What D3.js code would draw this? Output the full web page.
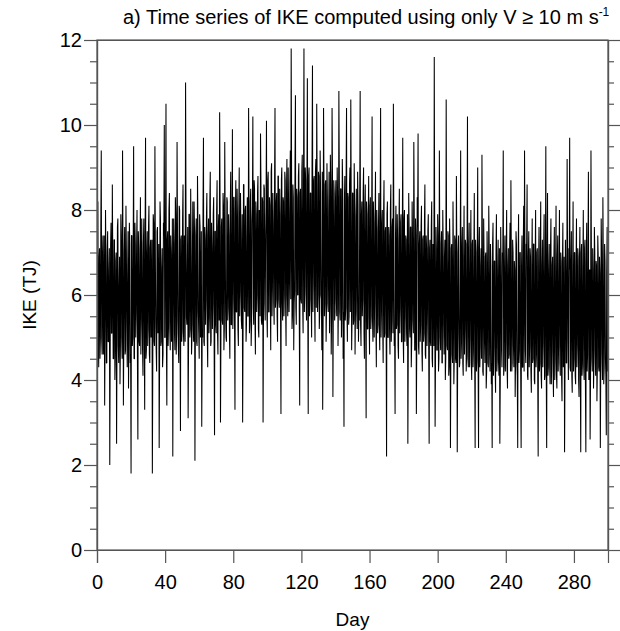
<!DOCTYPE html>
<html>
<head>
<meta charset="utf-8">
<script src="https://cdn.jsdelivr.net/npm/d3@7"></script>
<style>
  html, body { margin: 0; padding: 0; background: #fff; }
  svg { display: block; font-family: "Liberation Sans", Arial, Helvetica, sans-serif; }
</style>
</head>
<body>
<svg id="chart" width="620" height="631"></svg>
<script>
// ---- data (IKE in TJ) ----
// samples at 00 and 12 h of each day
const stepDays = 0.5;
const ike = [
// days 0-9
5.6,8.2, 4.3,7.1, 5.0,9.4, 4.6,7.4, 5.2,3.4, 8.0,4.4, 7.0,4.9, 6.6,2.0, 7.2,5.1, 8.6,4.5,
// 10-19
7.3,4.0, 6.8,2.5, 7.6,4.8, 6.2,3.9, 7.9,5.0, 9.4,3.4, 7.0,4.6, 8.1,5.3, 6.5,3.8, 7.7,4.4,
// 20-29
1.8,7.4, 5.0,9.5, 4.5,7.2, 5.6,8.0, 2.6,7.1, 4.8,8.3, 5.4,6.9, 4.1,7.8, 3.3,9.7, 4.7,7.5,
// 30-39
5.2,8.1, 4.4,7.3, 5.8,1.8, 7.9,4.9, 9.5,5.3, 4.2,7.6, 5.5,2.4, 8.2,4.8, 6.6,4.3, 7.7,10.0,
// 40-49
5.0,10.5, 3.4,7.5, 5.3,8.4, 4.7,7.0, 5.6,2.2, 7.8,5.1, 8.3,4.6, 9.6,5.4, 4.4,8.0, 2.8,7.4,
// 50-59
5.2,8.6, 4.8,7.2, 11.0,5.5, 6.4,3.1, 7.9,5.0, 8.5,4.6, 6.9,5.3, 8.2,2.1, 7.4,4.9, 8.8,5.6,
// 60-69
4.5,7.6, 5.7,2.9, 5.0,9.7, 4.8,7.3, 5.9,8.4, 4.3,7.8, 5.5,8.9, 4.9,7.1, 5.8,8.3, 2.7,7.5,
// 70-79
5.1,8.7, 4.6,7.9, 10.3,3.0, 7.6,5.4, 8.4,4.7, 9.6,5.6, 4.9,8.2, 5.7,7.4, 4.5,8.9, 5.3,9.9,
// 80-89
5.9,8.3, 3.3,8.7, 5.6,7.8, 4.8,9.0, 6.1,7.5, 5.2,3.0, 8.6,5.7, 8.0,4.9, 7.3,5.5, 10.4,5.1,
// 90-99
8.2,4.8, 7.7,10.2, 5.3,8.5, 4.6,7.9, 6.0,8.8, 5.0,7.6, 9.8,5.4, 8.3,3.0, 8.6,5.8, 7.4,10.1,
// 100-109
5.0,8.9, 5.6,8.1, 4.7,9.1, 6.2,7.7, 5.3,10.4, 5.9,8.4, 4.9,8.8, 5.7,7.9, 3.2,9.0, 5.4,8.2,
// 110-119
6.0,8.7, 4.8,9.2, 5.5,8.0, 6.3,9.4, 11.8,5.2, 8.6,4.7, 6.1,10.7, 5.3,8.3, 6.0,9.1, 3.4,8.5,
// 120-129
5.8,9.3, 5.1,11.8, 6.2,8.7, 5.4,11.1, 3.2,9.0, 5.9,8.4, 5.0,11.4, 6.3,8.8, 4.9,9.2, 10.5,5.6,
// 130-139
8.9,5.2, 9.4,6.0, 4.7,3.3, 10.4,5.5, 8.6,4.9, 9.1,5.8, 7.9,5.1, 9.3,4.6, 10.4,3.6, 8.7,5.4,
// 140-149
8.2,5.9, 9.0,4.8, 10.8,5.6, 8.5,5.0, 9.2,4.5, 2.9,8.8, 5.7,10.4, 4.9,8.3, 5.5,9.0, 10.6,4.7,
// 150-159
8.4,5.3, 9.1,4.6, 7.8,5.6, 8.9,4.9, 5.4,10.8, 4.8,8.2, 5.9,9.0, 4.5,8.6, 3.1,7.9, 5.2,8.8,
// 160-169
4.6,8.3, 5.5,10.2, 4.9,7.7, 5.8,8.9, 4.3,7.5, 5.3,8.4, 4.7,10.4, 5.6,8.0, 4.4,8.7, 5.1,7.6,
// 170-179
2.2,8.2, 5.0,7.4, 4.6,8.6, 5.4,7.8, 10.5,4.8, 3.2,8.1, 5.3,7.3, 4.5,8.5, 5.7,7.9, 4.9,9.7,
// 180-189
4.4,8.0, 5.5,7.3, 4.8,2.5, 8.4,5.2, 7.6,4.3, 8.2,5.4, 9.6,4.7, 7.8,3.2, 8.3,9.8, 4.6,7.5,
// 190-199
5.3,8.1, 4.2,7.4, 5.1,8.6, 4.5,7.1, 5.6,7.9, 2.5,7.3, 4.8,8.2, 4.3,7.0, 11.6,2.9, 7.6,4.7,
// 200-209
7.9,4.2, 9.4,5.0, 7.2,4.4, 8.0,5.3, 6.9,4.0, 10.6,4.8, 7.5,4.1, 7.8,2.4, 7.1,4.6, 8.2,3.9,
// 210-219
7.4,4.5, 8.8,2.3, 7.0,5.1, 4.4,9.4, 4.9,7.6, 4.1,8.1, 5.2,7.2, 4.6,10.2, 4.3,7.7, 5.0,8.0,
// 220-229
4.0,7.3, 4.7,8.4, 2.4,7.0, 4.5,9.0, 2.4,7.6, 4.8,7.1, 9.3,4.2, 7.8,4.9, 6.9,3.8, 7.5,4.4,
// 230-239
8.1,4.6, 7.2,3.9, 2.4,7.7, 4.8,6.8, 3.7,7.9, 4.5,7.3, 4.1,2.5, 7.6,4.7, 7.0,9.4, 4.3,7.4,
// 240-249
4.9,8.0, 3.8,7.1, 4.6,7.7, 8.7,4.2, 7.3,4.8, 6.8,3.6, 7.5,4.4, 2.4,7.9, 4.7,7.0, 2.4,7.4,
// 250-259
4.3,8.1, 9.4,4.7, 7.2,8.6, 4.0,7.5, 4.8,6.9, 3.7,7.8, 4.5,7.2, 3.9,8.0, 4.6,7.1, 2.2,7.6,
// 260-269
4.4,8.2, 3.8,7.3, 4.9,7.9, 4.1,9.5, 2.4,8.4, 4.3,7.2, 3.9,7.8, 4.7,6.9, 3.6,7.6, 4.5,8.1,
// 270-279
3.8,7.4, 4.8,8.0, 4.1,6.8, 3.5,7.7, 4.6,2.3, 7.3,4.4, 9.2,4.9, 7.1,9.7, 4.2,7.5, 3.7,8.2,
// 280-289
4.5,7.0, 3.9,7.8, 4.8,6.9, 3.6,7.6, 2.3,7.2, 4.4,8.0, 4.0,7.3, 2.3,7.7, 4.6,8.9, 4.1,2.6,
// 290-299
9.4,4.5, 7.1,3.8, 7.6,4.7, 6.8,3.5, 7.4,4.3, 6.9,2.4, 7.8,4.6, 8.3,3.9, 7.2,4.5, 2.7,7.6
];
// samples at 06 and 18 h of each day
const ikeMid = [
// days 0-39
7.2,4.8,6.9,4.5,7.6,5.0,7.0,4.6,7.4,5.2,6.8,4.4,7.5,4.9,7.1,4.7,7.7,5.1,6.9,4.5,
7.3,4.6,7.0,5.0,7.8,4.4,6.9,4.8,7.4,4.5,7.1,5.1,7.6,4.7,7.0,4.3,7.5,4.9,7.2,4.6,
7.4,4.8,7.0,4.5,7.7,5.0,7.1,4.4,7.5,4.9,6.9,4.6,7.8,4.7,7.2,5.1,7.4,4.5,7.0,4.8,
7.6,4.6,7.1,5.0,7.3,4.4,7.7,4.8,7.0,4.7,7.5,5.1,7.2,4.5,7.8,4.9,7.1,4.6,7.4,5.0,
// days 40-79
7.7,5.0,7.3,4.8,8.0,5.2,7.4,4.9,7.8,5.3,7.2,4.7,7.9,5.1,7.5,4.8,8.1,5.2,7.3,4.9,
7.8,5.1,7.4,4.9,8.0,5.3,7.6,4.8,7.9,5.2,7.3,5.0,8.2,4.9,7.5,5.3,7.8,4.8,7.6,5.1,
7.9,5.0,7.5,5.2,8.1,4.9,7.6,5.3,7.8,5.0,7.4,5.1,8.2,4.8,7.7,5.2,7.9,5.0,7.5,5.3,
8.0,5.1,7.6,5.4,8.2,5.0,7.8,5.3,8.1,5.2,7.7,5.0,8.3,5.4,7.9,5.1,8.0,5.3,7.6,5.2,
// days 80-99
8.3,5.3,7.9,5.6,8.5,5.2,8.0,5.5,8.4,5.4,7.9,5.2,8.6,5.6,8.1,5.3,8.3,5.5,8.0,5.4,
8.5,5.3,8.1,5.7,8.7,5.4,8.2,5.6,8.4,5.2,8.0,5.5,8.6,5.3,8.2,5.7,8.5,5.4,8.1,5.6,
// days 100-149
8.7,5.6,8.3,5.9,8.9,5.5,8.4,5.8,8.6,5.7,8.2,5.5,8.8,5.9,8.5,5.6,8.7,5.8,8.3,5.5,
8.9,5.7,8.4,6.0,9.0,5.6,8.6,5.9,8.8,5.5,8.3,5.8,9.1,5.7,8.5,6.0,8.8,5.6,8.4,5.9,
8.9,5.8,8.5,5.6,9.0,6.0,8.6,5.7,8.8,5.5,8.4,5.9,9.1,5.6,8.7,5.8,8.9,5.7,8.5,6.0,
8.8,5.6,8.4,5.9,8.9,5.5,8.6,5.8,8.7,5.7,8.3,5.6,8.9,5.8,8.5,5.5,8.8,5.9,8.4,5.6,
8.7,5.5,8.3,5.8,8.8,5.4,8.5,5.7,8.6,5.6,8.2,5.4,8.7,5.7,8.4,5.3,8.6,5.6,8.1,5.5,
// days 150-199
8.4,5.4,8.0,5.6,8.5,5.2,8.1,5.5,8.3,5.3,7.9,5.5,8.4,5.1,8.0,5.4,8.2,5.2,7.8,5.5,
8.1,5.2,7.7,5.4,8.2,5.0,7.8,5.3,8.0,5.1,7.6,5.3,8.1,5.0,7.7,5.2,7.9,5.0,7.5,5.3,
7.9,5.0,7.6,5.2,8.0,4.9,7.6,5.1,7.8,5.0,7.4,5.2,7.9,4.8,7.5,5.1,7.7,4.9,7.4,5.0,
7.8,4.9,7.4,5.1,7.9,4.8,7.5,5.0,7.6,4.9,7.3,5.1,7.8,4.7,7.4,5.0,7.6,4.8,7.2,4.9,
7.6,4.7,7.3,4.9,7.7,4.6,7.4,4.8,7.5,4.7,7.1,4.9,7.6,4.5,7.2,4.8,7.4,4.6,7.1,4.7,
// days 200-299
7.4,4.5,7.0,4.7,7.5,4.4,7.1,4.6,7.3,4.5,6.9,4.7,7.4,4.3,7.0,4.6,7.2,4.4,6.9,4.5,
7.3,4.4,6.9,4.6,7.4,4.3,7.0,4.5,7.2,4.4,6.8,4.6,7.3,4.2,6.9,4.5,7.1,4.3,6.8,4.4,
7.2,4.3,6.8,4.5,7.3,4.2,6.9,4.4,7.1,4.3,6.7,4.5,7.2,4.1,6.8,4.4,7.0,4.2,6.7,4.3,
7.1,4.2,6.7,4.4,7.2,4.1,6.8,4.3,7.0,4.2,6.6,4.4,7.1,4.0,6.7,4.3,6.9,4.1,6.6,4.2,
7.0,4.3,6.7,4.5,7.1,4.2,6.8,4.4,7.0,4.3,6.6,4.5,7.2,4.1,6.8,4.4,7.0,4.2,6.7,4.3,
7.1,4.2,6.8,4.4,7.2,4.1,6.9,4.3,7.1,4.2,6.7,4.4,7.2,4.0,6.8,4.3,7.0,4.1,6.7,4.2,
7.0,4.1,6.7,4.3,7.1,4.0,6.8,4.2,7.0,4.1,6.6,4.3,7.1,3.9,6.7,4.2,6.9,4.0,6.6,4.1,
6.9,4.2,6.6,4.4,7.0,4.1,6.7,4.3,6.9,4.2,6.5,4.4,7.0,4.0,6.6,4.3,6.8,4.1,6.5,4.2,
7.0,4.1,6.7,4.3,7.1,4.0,6.8,4.2,7.0,4.1,6.6,4.3,7.1,3.9,6.7,4.2,6.9,4.0,6.6,4.1,
6.9,4.2,6.6,4.4,7.0,4.1,6.7,4.3,6.9,4.2,6.5,4.4,7.0,4.0,6.6,4.3,6.8,4.1,6.5,4.2
];
const xTicks = [0, 40, 80, 120, 160, 200, 240, 280];
const yTicks = [0, 2, 4, 6, 8, 10, 12];
const yMinorStep = 0.5;
const xDomain = [0, 300];
const yDomain = [0, 12];
const titleText = "a) Time series of IKE computed using only V \u2265 10 m s";
const titleSup = "-1";
const xLabel = "Day";
const yLabel = "IKE (TJ)";

// combined 6-hourly series: [day, value]
const series = [];
ike.forEach((v, k) => {
  series.push([k * stepDays, v]);
  if (k < ikeMid.length) series.push([k * stepDays + stepDays / 2, ikeMid[k]]);
});

// ---- layout ----
const L = 97, R = 608, T = 40, B = 550;
const svg = d3.select("#chart");
const x = d3.scaleLinear().domain(xDomain).range([L, R]);
const y = d3.scaleLinear().domain(yDomain).range([B, T]);

svg.append("clipPath").attr("id", "plotclip")
  .append("rect").attr("x", L).attr("y", T).attr("width", R - L).attr("height", B - T);

// data line
const line = d3.line().x(d => x(d[0])).y(d => y(d[1]));
svg.append("path")
  .datum(series)
  .attr("d", line)
  .attr("clip-path", "url(#plotclip)")
  .attr("fill", "none")
  .attr("stroke", "#000")
  .attr("stroke-width", 1.05)
  .attr("stroke-linejoin", "bevel");

const axisColor = "#555";
const yMinor = d3.range(yDomain[0], yDomain[1] + 0.001, yMinorStep).filter(v => !yTicks.includes(v));

const gl = svg.append("g").attr("transform", `translate(${L},0)`)
  .call(d3.axisLeft(y).tickValues(yTicks).tickSize(13).tickPadding(2).tickFormat(d3.format("d")));
const glm = svg.append("g").attr("transform", `translate(${L},0)`)
  .call(d3.axisLeft(y).tickValues(yMinor).tickSize(7).tickFormat(""));
const gr = svg.append("g").attr("transform", `translate(${R},0)`)
  .call(d3.axisRight(y).tickValues(yTicks).tickSize(12).tickFormat(""));
const grm = svg.append("g").attr("transform", `translate(${R},0)`)
  .call(d3.axisRight(y).tickValues(yMinor).tickSize(6).tickFormat(""));
const gb = svg.append("g").attr("transform", `translate(0,${B})`)
  .call(d3.axisBottom(x).tickValues(xTicks).tickSize(13).tickPadding(12).tickFormat(d3.format("d")));
const gt = svg.append("g").attr("transform", `translate(0,${T})`)
  .call(d3.axisTop(x).tickValues([]).tickSize(0));

[gl, glm, gr, grm, gb, gt].forEach(g => {
  g.selectAll(".domain").attr("stroke", axisColor).attr("stroke-width", 1.2);
  g.selectAll(".tick line").attr("stroke", axisColor).attr("stroke-width", 1.2);
  g.selectAll(".tick text").attr("fill", "#000").attr("font-size", 20)
    .attr("font-family", "'Liberation Sans', Arial, Helvetica, sans-serif");
});
svg.append("rect").attr("x", L).attr("y", T).attr("width", R - L).attr("height", B - T)
  .attr("fill", "none").attr("stroke", axisColor).attr("stroke-width", 1.2);

// title
const title = svg.append("text").attr("x", 123).attr("y", 24)
  .attr("font-size", 20).attr("fill", "#000");
title.append("tspan").text(titleText);
title.append("tspan").text(titleSup).attr("font-size", 12).attr("dy", -8);

// axis labels
svg.append("text").attr("x", (L + R) / 2).attr("y", 626)
  .attr("text-anchor", "middle").attr("font-size", 19).attr("fill", "#000").text(xLabel);
svg.append("text").attr("transform", `translate(36,${(T + B) / 2}) rotate(-90)`)
  .attr("text-anchor", "middle").attr("font-size", 19).attr("fill", "#000").text(yLabel);
</script>
</body>
</html>
